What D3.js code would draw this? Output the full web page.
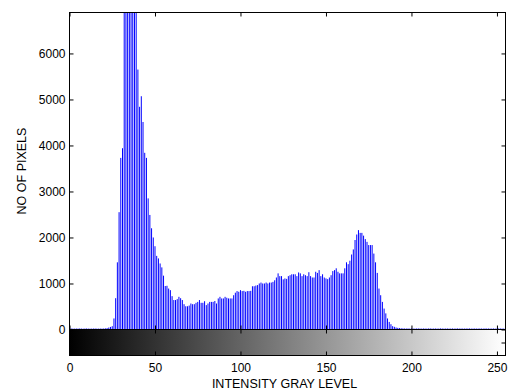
<!DOCTYPE html>
<html>
<head>
<meta charset="utf-8">
<script src="https://cdn.jsdelivr.net/npm/d3@7"></script>
<style>
  html, body { margin: 0; padding: 0; background: #fff; }
  svg { display: block; }
  text { font-family: "Liberation Sans", Arial, Helvetica, sans-serif; fill: #000; }
</style>
</head>
<body>
<svg id="chart" width="517" height="392"></svg>
<script>
// ---- data ----
const grayLevels = d3.range(256);
const pixelCounts = [
  18,22,20,19,21,20,23,20,18,21,22,20,19,20,21,22,
  20,19,21,20,22,25,30,43,56,72,240,680,1460,2550,3730,3940,
  7600,9800,12000,12600,11400,10200,8900,7300,5650,4840,5070,4510,3840,3730,2850,2490,
  2200,2000,1810,1600,1545,1435,1350,1170,945,950,890,855,725,640,640,660,
  710,680,640,550,505,505,520,565,550,550,580,600,640,580,580,615,
  530,565,600,600,600,620,565,675,710,675,675,710,690,675,675,675,
  745,800,835,820,855,835,840,820,835,835,840,940,940,955,965,1000,
  1020,1000,1000,1020,1000,1020,1020,1035,1070,1130,1220,1160,1160,1090,1110,1100,
  1160,1180,1200,1200,1200,1160,1240,1220,1160,1200,1180,1160,1245,1160,1130,1130,
  1255,1230,1290,1160,1200,1130,1110,1095,1130,1180,1270,1290,1330,1255,1220,1220,
  1220,1330,1460,1420,1495,1630,1740,1945,2065,2160,2100,2100,2040,1965,1905,1835,
  1835,1835,1650,1460,1230,890,745,600,455,350,240,165,115,72,58,43,
  35,30,27,24,22,21,23,20,22,21,20,22,23,21,20,22,
  21,20,22,23,20,21,22,20,21,23,22,20,21,22,20,21,
  22,20,21,23,20,22,21,20,22,21,23,20,21,22,20,21,
  22,21,20,23,21,22,20,21,22,20,21,23,22,20,21,24
];
const xTicks = [0, 50, 100, 150, 200, 250];
const yTicks = [0, 1000, 2000, 3000, 4000, 5000, 6000];
const xDomain = [0, 255];
const yDomain = [0, 6890];
const xLabel = "INTENSITY GRAY LEVEL";
const yLabel = "NO OF PIXELS";

// ---- layout ----
const L = 69.5, R = 505.5, T = 12.5, zeroY = 329.5, barBottom = 355.5;
const svg = d3.select("#chart");

const x = d3.scaleLinear().domain(xDomain).range([L, R]);
const y = d3.scaleLinear().domain(yDomain).range([zeroY, T]);

const defs = svg.append("defs");
defs.append("clipPath").attr("id", "plotClip")
  .append("rect").attr("x", L).attr("y", T).attr("width", R - L).attr("height", zeroY - T);

const grad = defs.append("linearGradient").attr("id", "grayGrad")
  .attr("x1", "0%").attr("x2", "100%").attr("y1", "0%").attr("y2", "0%");
grad.append("stop").attr("offset", "0%").attr("stop-color", "#000");
grad.append("stop").attr("offset", "100%").attr("stop-color", "#fff");

// stems
svg.append("g").attr("clip-path", "url(#plotClip)")
  .selectAll("line").data(grayLevels).join("line")
  .attr("x1", d => x(d)).attr("x2", d => x(d))
  .attr("y1", y(0)).attr("y2", d => y(pixelCounts[d]))
  .attr("stroke", "#0000ff").attr("stroke-width", 1);

// colorbar
svg.append("rect").attr("x", L).attr("y", zeroY).attr("width", R - L).attr("height", barBottom - zeroY)
  .attr("fill", "url(#grayGrad)");

// axes (ticks inward, MATLAB style)
function styleAxis(g) {
  g.select(".domain").remove();
  g.selectAll(".tick line").attr("stroke", "#000");
  g.selectAll("text").style("font-size", "12px").attr("fill", "#000");
}
svg.append("g").attr("transform", `translate(${L},0)`)
  .call(d3.axisLeft(y).tickValues(yTicks).tickSize(-4).tickPadding(4).tickFormat(d3.format("d")))
  .call(styleAxis);
svg.append("g").attr("transform", `translate(${R},0)`)
  .call(d3.axisRight(y).tickValues(yTicks).tickSize(-4).tickFormat(""))
  .call(styleAxis);
svg.append("g").attr("transform", `translate(0,${T})`)
  .call(d3.axisTop(x).tickValues(xTicks).tickSize(-4).tickFormat(""))
  .call(styleAxis);
svg.append("g").attr("transform", `translate(0,${zeroY})`)
  .call(d3.axisBottom(x).tickValues(xTicks).tickSize(-4).tickFormat(""))
  .call(styleAxis);
svg.append("g").attr("transform", `translate(0,${zeroY})`)
  .call(d3.axisTop(x).tickValues(xTicks).tickSize(-4).tickFormat(""))
  .call(styleAxis);
svg.append("g").attr("transform", `translate(0,${barBottom})`)
  .call(d3.axisBottom(x).tickValues(xTicks).tickSize(-4).tickPadding(8).tickFormat(d3.format("d")))
  .call(styleAxis);
const cb = d3.scaleLinear().domain([0, 1]).range([barBottom, zeroY]);
svg.append("g").attr("transform", `translate(${R},0)`)
  .call(d3.axisRight(cb).tickValues([0.5]).tickSize(-4).tickFormat(""))
  .call(styleAxis);

// frames
svg.append("rect").attr("x", L).attr("y", T).attr("width", R - L).attr("height", zeroY - T)
  .attr("fill", "none").attr("stroke", "#000").attr("stroke-width", 1);
svg.append("rect").attr("x", L).attr("y", zeroY).attr("width", R - L).attr("height", barBottom - zeroY)
  .attr("fill", "none").attr("stroke", "#000").attr("stroke-width", 1);

// labels
svg.append("text").attr("x", (L + R) / 2 - 3).attr("y", 388)
  .attr("text-anchor", "middle").style("font-size", "12.5px").text(xLabel);
svg.append("text").attr("transform", `translate(26,${(T + zeroY) / 2}) rotate(-90)`)
  .attr("text-anchor", "middle").style("font-size", "12.5px").text(yLabel);
</script>
</body>
</html>
